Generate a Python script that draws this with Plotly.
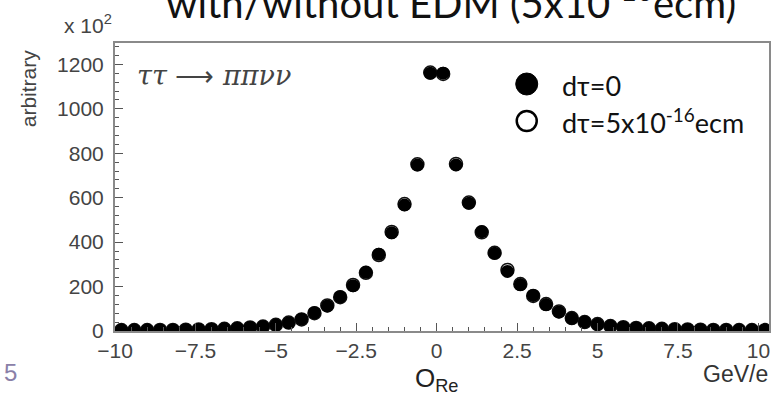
import plotly.graph_objects as go

# ---- data ----
x_centers = [-9.8, -9.4, -9.0, -8.6, -8.2, -7.8, -7.4, -7.0, -6.6, -6.2,
             -5.8, -5.4, -5.0, -4.6, -4.2, -3.8, -3.4, -3.0, -2.6, -2.2,
             -1.8, -1.4, -1.0, -0.6, -0.2, 0.2, 0.6, 1.0, 1.4, 1.8,
             2.2, 2.6, 3.0, 3.4, 3.8, 4.2, 4.6, 5.0, 5.4, 5.8,
             6.2, 6.6, 7.0, 7.4, 7.8, 8.2, 8.6, 9.0, 9.4, 9.8, 10.2]

y_dtau0 = [4, 4, 4, 5, 5, 6, 7, 8, 10, 12,
           16, 20, 27, 37, 53, 82, 113, 154, 204, 264,
           345, 442, 567, 747, 1160, 1160, 747, 575, 447, 350,
           268, 209, 160, 119, 86, 57, 41, 30, 22, 17,
           14, 12, 10, 8, 7, 6, 5, 5, 4, 4, 4]

y_dtau5 = [4, 4, 4, 5, 5, 6, 7, 8, 10, 12,
           16, 20, 28, 38, 52, 80, 115, 152, 207, 262,
           342, 446, 571, 750, 1163, 1157, 752, 578, 444, 352,
           275, 211, 158, 121, 88, 58, 40, 31, 22, 17,
           14, 12, 10, 8, 7, 6, 5, 5, 4, 4, 4]

x_tickvals = [-10, -7.5, -5, -2.5, 0, 2.5, 5, 7.5, 10]
x_ticktext = ["\u221210", "\u22127.5", "\u22125", "\u22122.5", "0", "2.5", "5", "7.5", "10"]
y_tickvals = [0, 200, 400, 600, 800, 1000, 1200]

legend_labels = ["d\u03c4=0", "d\u03c4=5x10<sup>-16</sup>ecm"]

# ---- geometry (pixels) ----
W, H = 776, 394
L, R, T, B = 115, 5, 43, 63
pw, ph = W - L - R, H - T - B

def px_x(px):
    return (px - L) / pw

def px_y(py):
    return (H - B - py) / ph

fig = go.Figure()
fig.add_trace(go.Scatter(
    x=x_centers, y=y_dtau5, mode="markers",
    marker=dict(symbol="circle", size=13, color="white",
                line=dict(color="#111", width=1.5)),
    showlegend=False))
fig.add_trace(go.Scatter(
    x=x_centers, y=y_dtau0, mode="markers",
    marker=dict(symbol="circle", size=13, color="black",
                line=dict(color="black", width=0)),
    showlegend=False))

axis_common = dict(showline=True, linecolor="#8a8a8a", linewidth=2, mirror=True,
                   showgrid=False, zeroline=False, ticks="inside",
                   tickcolor="#555", tickwidth=1,
                   tickfont=dict(family="Liberation Sans, Arial", size=21, color="#444"))

fig.update_xaxes(range=[-10, 10.33], tickvals=x_tickvals, ticktext=x_ticktext,
                 ticklen=8, ticklabelstandoff=0,
                 minor=dict(dtick=0.5, tick0=0, ticks="inside", ticklen=4,
                            tickcolor="#555", tickwidth=1),
                 **axis_common)
fig.update_yaxes(range=[0, 1296], tickvals=y_tickvals,
                 ticklen=8, ticklabelstandoff=5,
                 minor=dict(dtick=40, tick0=0, ticks="inside", ticklen=4,
                            tickcolor="#555", tickwidth=1),
                 **axis_common)

arrow_text = ("<i>\u03c4\u03c4</i> <span style='font-family:Liberation Serif'>\u27f6</span> "
              "<i>\u03c0\u03c0\u03bd\u03bd</i>")

annotations = [
    dict(text="with/without EDM (5x10<sup>-16</sup>ecm)", x=px_x(452), y=px_y(0),
         xref="paper", yref="paper", xanchor="center", yanchor="middle",
         showarrow=False, font=dict(family="Lato", size=40, color="#111")),
    dict(text="x 10<sup>2</sup>", x=px_x(62), y=px_y(24), xref="paper", yref="paper",
         xanchor="left", yanchor="middle", showarrow=False,
         font=dict(family="Liberation Sans, Arial", size=21, color="#444")),
    dict(text="arbitrary", x=px_x(28), y=px_y(88), xref="paper", yref="paper",
         xanchor="center", yanchor="middle", textangle=-90, showarrow=False,
         font=dict(family="Liberation Sans, Arial", size=21, color="#444")),
    dict(text=arrow_text, x=px_x(135), y=px_y(75),
         xref="paper", yref="paper", xanchor="left", yanchor="middle",
         showarrow=False, font=dict(family="DejaVu Serif", size=27, color="#444")),
    dict(text=legend_labels[0], x=px_x(561), y=px_y(85), xref="paper", yref="paper",
         xanchor="left", yanchor="middle", showarrow=False,
         font=dict(family="Lato", size=27, color="#111")),
    dict(text=legend_labels[1], x=px_x(561), y=px_y(121), xref="paper", yref="paper",
         xanchor="left", yanchor="middle", showarrow=False,
         font=dict(family="Lato", size=27, color="#111")),
    dict(text="O<sub>Re</sub>", x=px_x(437), y=px_y(379), xref="paper", yref="paper",
         xanchor="center", yanchor="middle", showarrow=False,
         font=dict(family="Liberation Sans, Arial", size=26, color="#222")),
    dict(text="GeV/e", x=px_x(772), y=px_y(374), xref="paper", yref="paper",
         xanchor="right", yanchor="middle", showarrow=False,
         font=dict(family="Liberation Sans, Arial", size=23, color="#333")),
    dict(text="5", x=px_x(2), y=px_y(372), xref="paper", yref="paper",
         xanchor="left", yanchor="middle", showarrow=False,
         font=dict(family="Liberation Sans, Arial", size=24, color="#8a80a8")),
]

shapes = [
    dict(type="circle", xref="paper", yref="paper", xsizemode="pixel", ysizemode="pixel",
         xanchor=px_x(528), yanchor=px_y(84), x0=-11, x1=11, y0=-11, y1=11,
         fillcolor="black", line=dict(color="black", width=1)),
    dict(type="circle", xref="paper", yref="paper", xsizemode="pixel", ysizemode="pixel",
         xanchor=px_x(528), yanchor=px_y(121), x0=-10, x1=10, y0=-10, y1=10,
         fillcolor="white", line=dict(color="black", width=2.5)),
]

fig.update_layout(width=W, height=H, margin=dict(l=L, r=R, t=T, b=B),
                  paper_bgcolor="white", plot_bgcolor="white",
                  annotations=annotations, shapes=shapes, showlegend=False)

fig.write_html("out.html")
